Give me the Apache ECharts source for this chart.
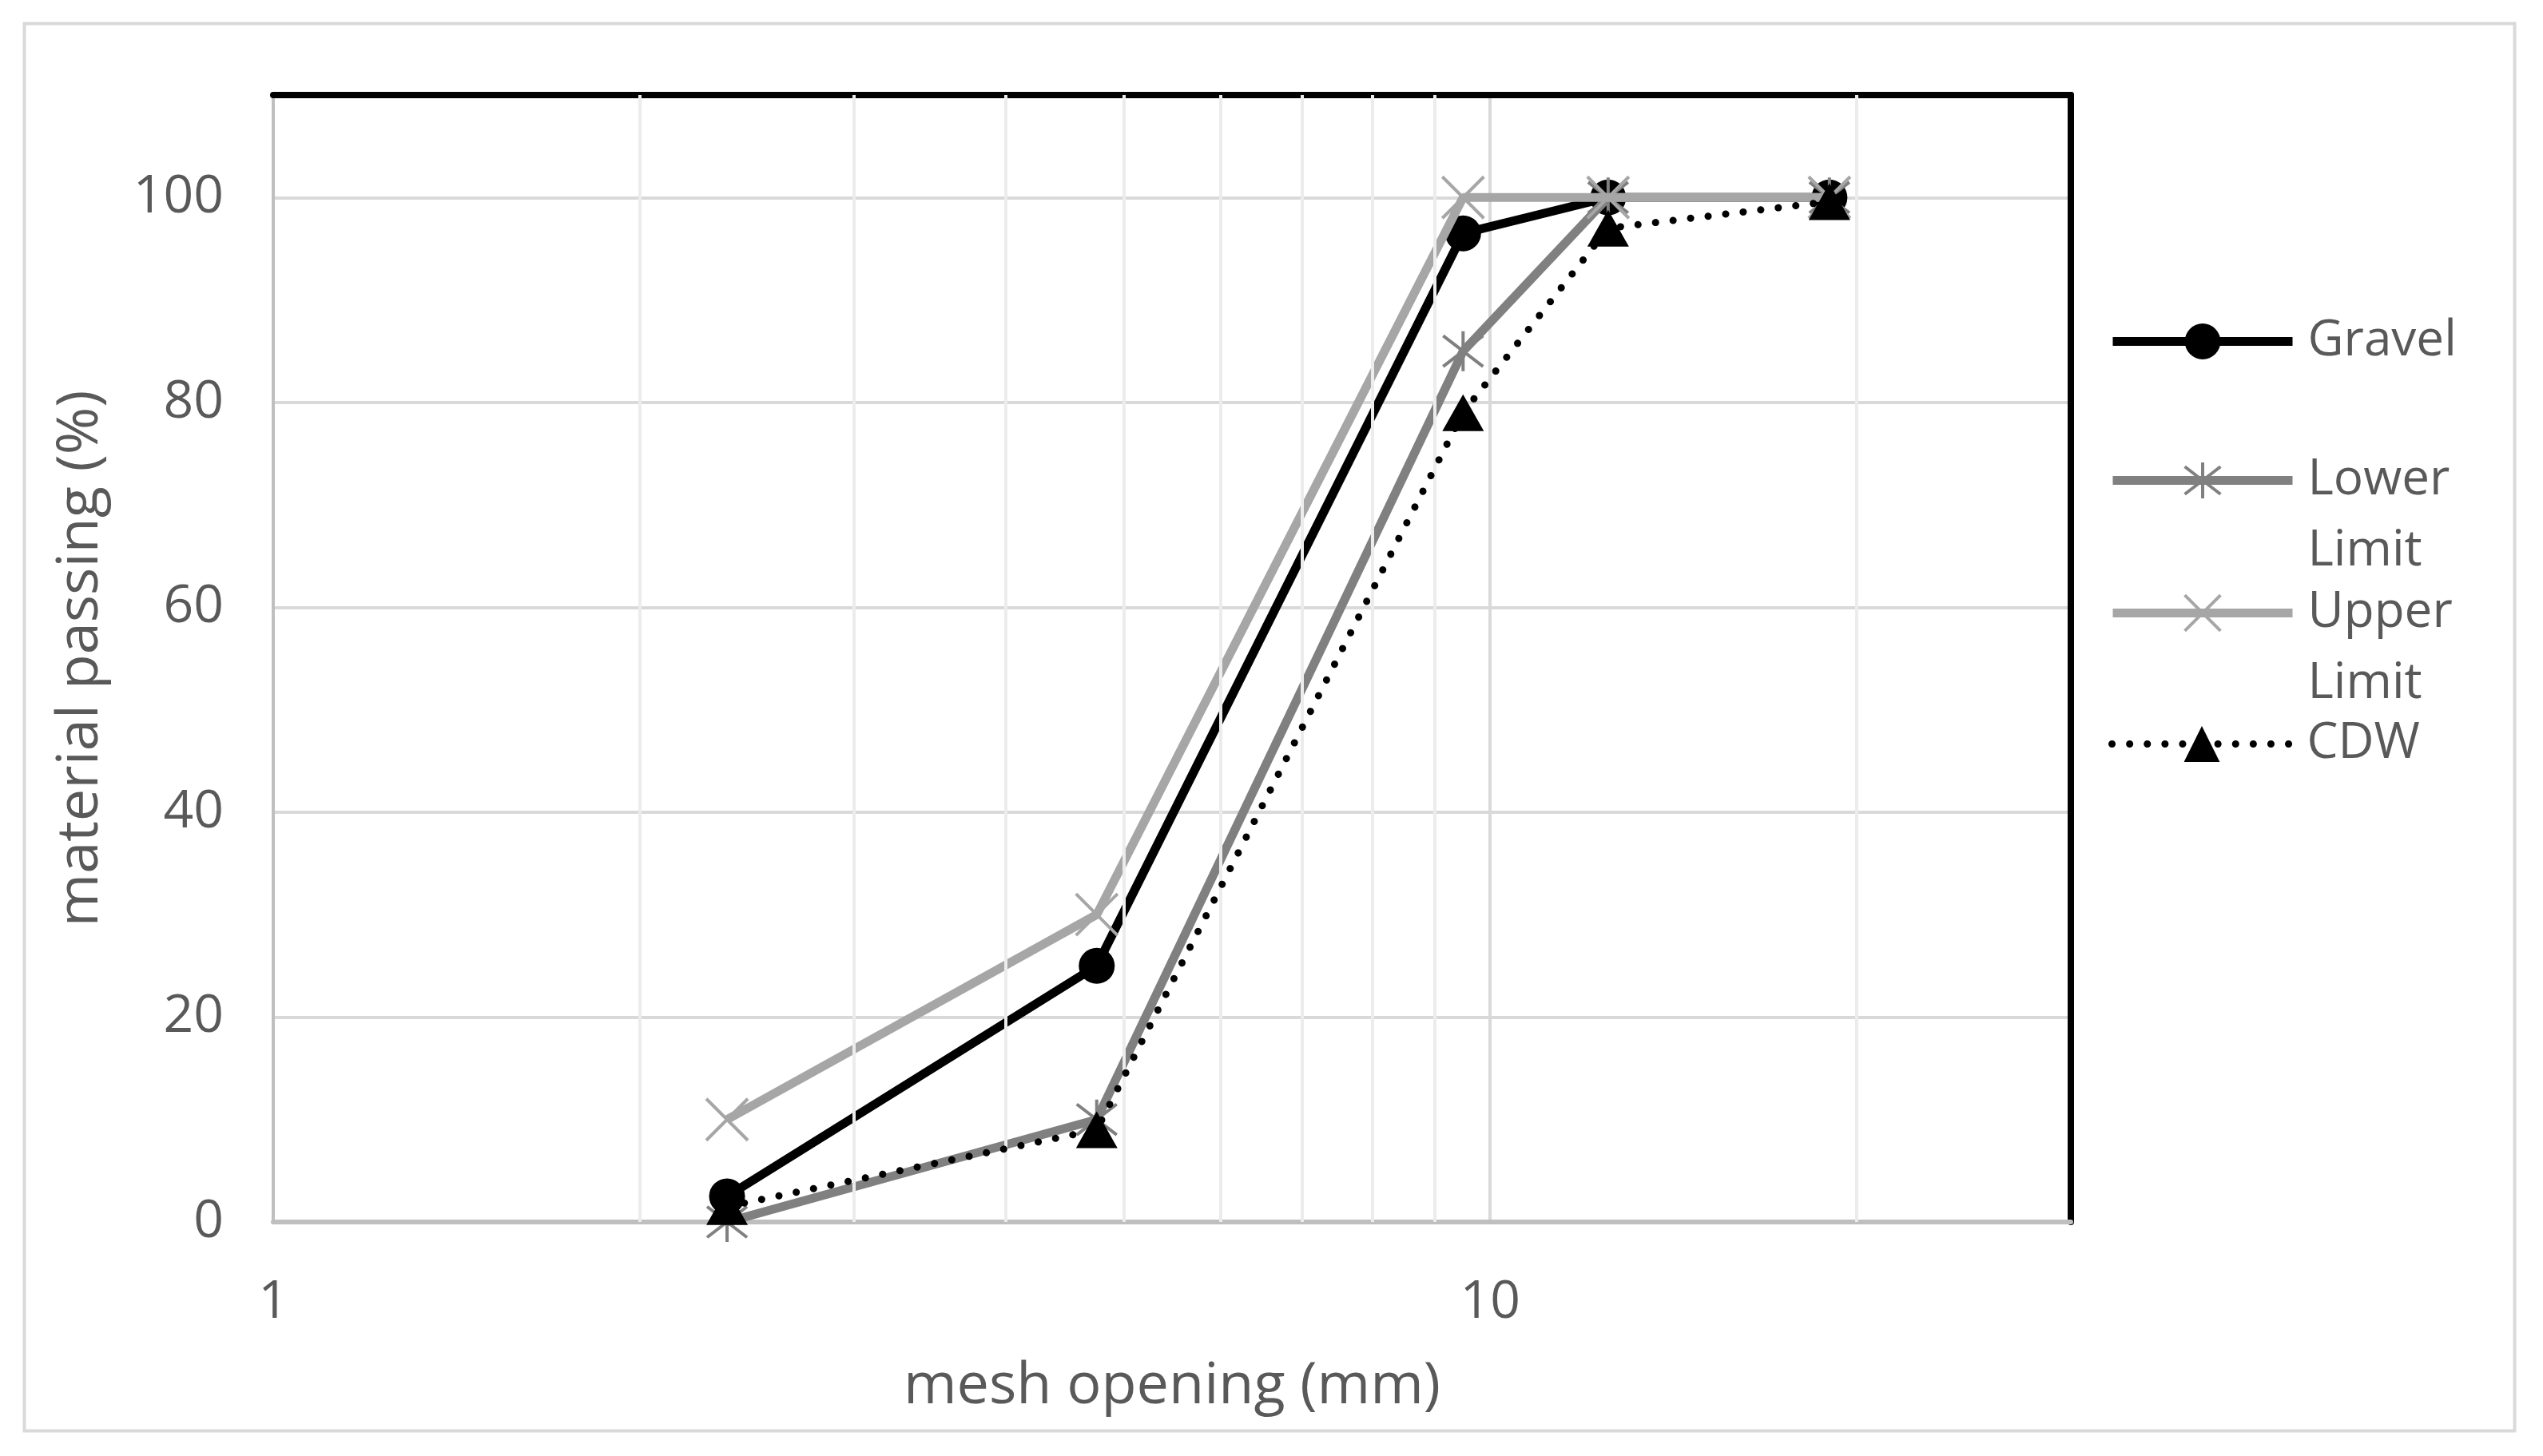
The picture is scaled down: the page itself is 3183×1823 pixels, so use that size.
<!DOCTYPE html>
<html>
<head>
<meta charset="utf-8">
<script src="https://cdn.jsdelivr.net/npm/echarts@6/dist/echarts.min.js"></script>
<style>
  html, body { margin: 0; padding: 0; background: #fff; }
  #chart { width: 3183px; height: 1823px; }
</style>
</head>
<body>
<div id="chart"></div>
<script>
// sieve sizes (mm) and % passing for each curve
var meshSizes = [2.36, 4.75, 9.5, 12.5, 19];
var gravel = [2.5, 25, 96.5, 100, 100];
var lowerLimit = [0, 10, 85, 100, 100];
var upperLimit = [10, 30, 100, 100, 100];
var cdw = [1.5, 9, 79, 97, 99.6];
var seriesNames = ['Gravel', 'Lower Limit', 'Upper Limit', 'CDW'];
// light vertical gridlines of the log axis
var minorGridX = [2, 3, 4, 5, 6, 7, 8, 9, 20];

var font = 'Open Sans';
var textGray = '#595959';

function pairs(vals) {
    return meshSizes.map(function (m, i) { return [m, vals[i]]; });
}

var xMark = 'path://M0,0L10,10M10,0L0,10';
var starMark = 'path://M0,0L10,10M10,0L0,10M5,-1.5L5,11.5';

var series = [
    {
        type: 'line', data: [], z: 1, silent: true,
        markLine: {
            silent: true, symbol: 'none', animation: false,
            label: {show: false},
            lineStyle: {color: '#ececec', width: 4, type: 'solid'},
            data: minorGridX.map(function (v) { return {xAxis: v}; })
        }
    },
    {
        name: seriesNames[0], type: 'line', data: pairs(gravel), z: 2,
        symbol: 'circle', symbolSize: 45,
        lineStyle: {color: '#000', width: 11},
        itemStyle: {color: '#000', borderWidth: 0}
    },
    {
        name: seriesNames[1], type: 'line', data: pairs(lowerLimit), z: 3,
        symbol: starMark, symbolSize: 50,
        lineStyle: {color: '#808080', width: 11},
        itemStyle: {color: '#808080', borderColor: '#808080', borderWidth: 4}
    },
    {
        name: seriesNames[2], type: 'line', data: pairs(upperLimit), z: 4,
        symbol: xMark, symbolSize: 52,
        lineStyle: {color: '#a6a6a6', width: 11},
        itemStyle: {color: '#a6a6a6', borderColor: '#a6a6a6', borderWidth: 4}
    },
    {
        name: seriesNames[3], type: 'line', data: pairs(cdw), z: 5,
        symbol: 'triangle', symbolSize: [52, 46],
        lineStyle: {color: '#000', width: 9, type: [0.1, 22], cap: 'round'},
        itemStyle: {color: '#000', borderWidth: 0}
    }
];

// one legend per entry so wrapped names keep the marker on the first line
var legendTops = [383, 468, 634, 887];
var legends = seriesNames.map(function (name, i) {
    var lg = {
        data: [name],
        orient: 'vertical',
        left: 2639, top: legendTops[i],
        padding: 0,
        itemWidth: 225, itemHeight: 56,
        textStyle: {fontFamily: font, fontSize: 62, color: textGray, lineHeight: 89, padding: [0, 0, 0, 14]},
        formatter: function (n) {
            return n.indexOf(' ') > 0 ? '\n' + n.replace(' ', '\n') : n;
        },
        selectedMode: false
    };
    lg.lineStyle = {width: i === 3 ? 9 : 11};
    if (i === 1 || i === 2) lg.itemStyle = {borderWidth: 4};
    return lg;
});

var option = {
    backgroundColor: '#fff',
    animation: false,
    grid: {left: 342, top: 119, right: 591, bottom: 293, containLabel: false},
    graphic: [{
        type: 'rect', left: 28, top: 27, silent: true,
        shape: {width: 3117, height: 1762},
        style: {fill: 'none', stroke: '#d9d9d9', lineWidth: 4}
    }],
    legend: legends,
    xAxis: [
        {
            type: 'log', logBase: 10, min: 1, max: 30,
            name: 'mesh opening (mm)', nameLocation: 'middle', nameGap: 170,
            nameTextStyle: {fontFamily: font, fontSize: 72, color: textGray},
            axisLine: {onZero: false, lineStyle: {color: '#bfbfbf', width: 6}},
            axisTick: {show: false},
            axisLabel: {fontFamily: font, fontSize: 66, color: textGray, margin: 68, showMaxLabel: false},
            splitLine: {show: true, lineStyle: {color: '#d9d9d9', width: 4}}
        },
        {
            type: 'log', logBase: 10, min: 1, max: 30, position: 'top',
            axisLine: {onZero: false, lineStyle: {color: '#000', width: 8}},
            axisTick: {show: false}, axisLabel: {show: false}, splitLine: {show: false}
        }
    ],
    yAxis: [
        {
            type: 'value', min: 0, max: 110, interval: 20,
            name: 'material passing (%)', nameLocation: 'middle', nameGap: 205,
            nameTextStyle: {fontFamily: font, fontSize: 72, color: textGray},
            axisLine: {show: true, onZero: false, lineStyle: {color: '#bfbfbf', width: 4}},
            axisTick: {show: false},
            axisLabel: {fontFamily: font, fontSize: 66, color: textGray, margin: 62, showMaxLabel: false},
            splitLine: {show: true, lineStyle: {color: '#d9d9d9', width: 4}}
        },
        {
            type: 'value', min: 0, max: 110, position: 'right',
            axisLine: {show: true, onZero: false, lineStyle: {color: '#000', width: 8}},
            axisTick: {show: false}, axisLabel: {show: false}, splitLine: {show: false}
        }
    ],
    series: series
};

var chart = echarts.init(document.getElementById('chart'));
chart.setOption(option);
</script>
</body>
</html>
